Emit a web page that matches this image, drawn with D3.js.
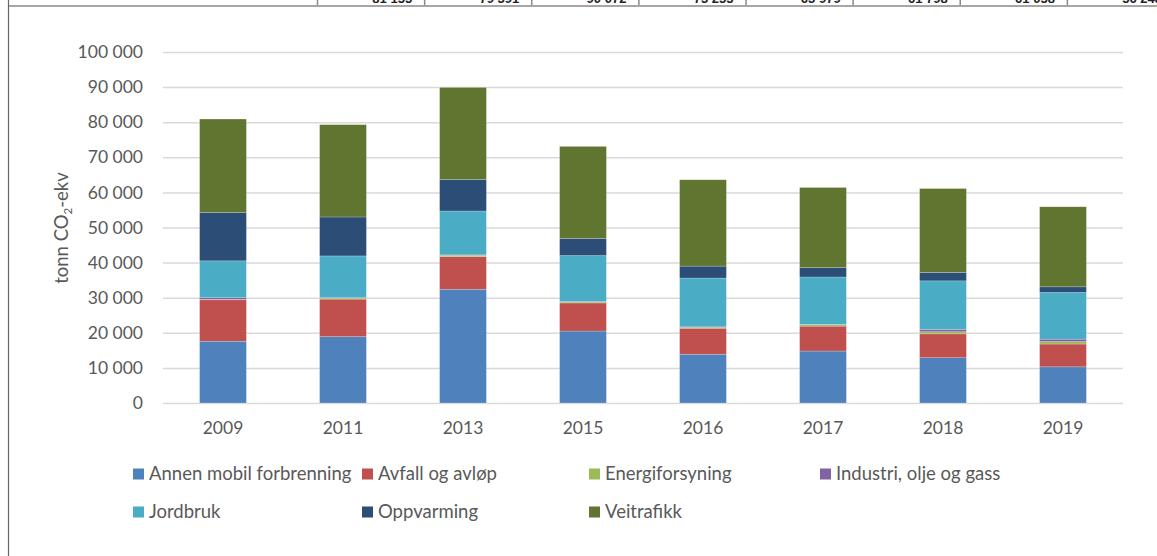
<!DOCTYPE html>
<html>
<head>
<meta charset="utf-8">
<script src="https://cdn.jsdelivr.net/npm/d3@7.8.5/dist/d3.min.js"></script>
<style>
  html, body { margin: 0; padding: 0; background: #fff; }
  svg { display: block; font-family: Lato, "Open Sans", sans-serif; }
</style>
</head>
<body>
<div id="chart"></div>
<script>
// years on the x axis
const years = ['2009', '2011', '2013', '2015', '2016', '2017', '2018', '2019'];

// tonn CO2-ekv per sector
const annenMobil = [17600, 18900, 32400, 20500, 13900, 14800, 12900, 10300];
const avfall     = [11800, 10700,  9300,  8000,  7400,  7100,  6800,  6500];
const energi     = [  100,   300,   400,   300,   300,   400,   600,   700];
const industri   = [  500,   100,   100,   100,   100,   100,   700,   700];
const jordbruk   = [10500, 11900, 12500, 13100, 13900, 13500, 13800, 13300];
const oppvarming = [13800, 11100,  9000,  4900,  3400,  2700,  2400,  1600];
const veitrafikk = [26600, 26300, 26200, 26200, 24600, 22800, 23900, 22800];

const seriesNames = ['Annen mobil forbrenning', 'Avfall og avløp', 'Energiforsyning',
  'Industri, olje og gass', 'Jordbruk', 'Oppvarming', 'Veitrafikk'];
const seriesValues = [annenMobil, avfall, energi, industri, jordbruk, oppvarming, veitrafikk];
const colors = ['#4f81bd', '#c0504d', '#9bbb59', '#8064a2', '#4bacc6', '#2c4d75', '#5f7530'];

// totals row of the table above (only the lower edge shows)
const tableTotals = ['81 155', '79 391', '90 072', '73 255', '63 979', '61 798', '61 058', '56 248'];

const yTicks = [0, 10000, 20000, 30000, 40000, 50000, 60000, 70000, 80000, 90000, 100000];

const width = 1157, height = 556;
const textColor = '#595959';
const fontSize = 17.5;
const legendSize = 18.5;

const svg = d3.select('#chart').append('svg')
    .attr('width', width)
    .attr('height', height);

// page border and the table bottom from the page above
svg.append('line')
    .attr('x1', 8.5).attr('x2', 8.5)
    .attr('y1', 0).attr('y2', height)
    .attr('stroke', '#666').attr('stroke-width', 1.2);
svg.append('line')
    .attr('x1', 9).attr('x2', width)
    .attr('y1', 6).attr('y2', 6)
    .attr('stroke', '#a6a6a6').attr('stroke-width', 2);

const tableX = d3.scaleBand().domain(years).range([317, 1174]);
years.forEach((yr, i) => {
    svg.append('line')
        .attr('x1', tableX(yr) + 0.5).attr('x2', tableX(yr) + 0.5)
        .attr('y1', 0).attr('y2', 5)
        .attr('stroke', '#888').attr('stroke-width', 1.5);
    svg.append('text')
        .attr('x', tableX(yr) + tableX.bandwidth() - 12)
        .attr('y', 2.5)
        .attr('text-anchor', 'end')
        .style('font-family', '"Liberation Sans", sans-serif')
        .style('font-size', '13px')
        .style('font-weight', 'bold')
        .attr('fill', '#222')
        .text(tableTotals[i]);
});

// scales
const x = d3.scaleBand()
    .domain(years)
    .range([163, 1123])
    .paddingInner(0.61)
    .paddingOuter(0.305);

const y = d3.scaleLinear()
    .domain([0, 100000])
    .range([403, 52]);

// gridlines + y tick labels
const fmt = v => d3.format(',')(v).replace(/,/g, ' ');
const yAxis = svg.append('g')
    .attr('transform', 'translate(163,0)')
    .call(d3.axisLeft(y).tickValues(yTicks).tickSize(-960).tickPadding(20).tickFormat(fmt));
yAxis.select('.domain').remove();
yAxis.selectAll('.tick line')
    .attr('stroke', '#d9d9d9')
    .attr('stroke-width', 1.5);
yAxis.selectAll('.tick text')
    .attr('fill', textColor)
    .style('font-family', 'Lato, sans-serif')
    .style('font-size', fontSize + 'px');

// stacked bars
const table = years.map((yr, i) => {
    const row = { year: yr };
    seriesNames.forEach((name, s) => { row[name] = seriesValues[s][i]; });
    return row;
});
const stack = d3.stack().keys(seriesNames)(table);

svg.append('g')
    .selectAll('g')
    .data(stack)
    .enter()
    .append('g')
    .attr('fill', (d, i) => colors[i])
    .selectAll('rect')
    .data(d => d)
    .enter()
    .append('rect')
    .attr('x', d => x(d.data.year))
    .attr('width', x.bandwidth())
    .attr('y', d => y(d[1]))
    .attr('height', d => y(d[0]) - y(d[1]))
    .attr('stroke', 'rgba(255,255,255,0.35)')
    .attr('stroke-width', 0.6);

// x axis labels
const xAxis = svg.append('g')
    .attr('transform', 'translate(0,403)')
    .call(d3.axisBottom(x).tickSize(0).tickPadding(19));
xAxis.select('.domain').remove();
xAxis.selectAll('.tick text')
    .attr('fill', textColor)
    .style('font-family', 'Lato, sans-serif')
    .style('font-size', fontSize + 'px');

// y axis title
const yTitle = svg.append('text')
    .attr('transform', 'translate(68,228) rotate(-90)')
    .attr('text-anchor', 'middle')
    .attr('fill', textColor)
    .style('font-size', legendSize + 'px');
yTitle.append('tspan').text('tonn CO');
yTitle.append('tspan').attr('dy', 4).style('font-size', '11.5px').text('2');
yTitle.append('tspan').attr('dy', -4).text('-ekv');

// legend
const legendCols = [133, 362, 589, 820];
const legendRows = [474, 512];
const legend = svg.append('g')
    .selectAll('g')
    .data(seriesNames)
    .enter()
    .append('g')
    .attr('transform', (d, i) => `translate(${legendCols[i % 4]},${legendRows[Math.floor(i / 4)]})`);

legend.append('rect')
    .attr('x', 0)
    .attr('y', -5.5)
    .attr('width', 11)
    .attr('height', 11)
    .attr('fill', (d, i) => colors[i]);

legend.append('text')
    .attr('x', 16)
    .attr('y', 0)
    .attr('dy', '0.35em')
    .attr('fill', textColor)
    .style('font-size', legendSize + 'px')
    .text(d => d);
</script>
</body>
</html>
